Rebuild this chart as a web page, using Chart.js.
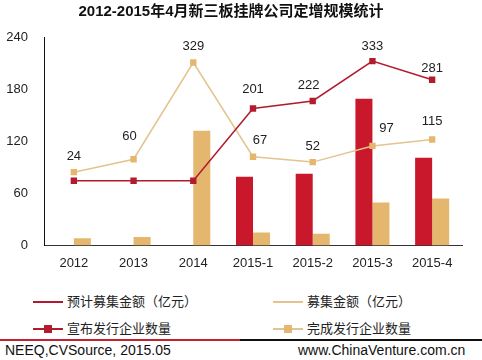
<!DOCTYPE html>
<html>
<head>
<meta charset="utf-8">
<script src="https://cdn.jsdelivr.net/npm/chart.js@4"></script>
<style>
  html,body{margin:0;padding:0;background:#fff;}
  body{width:482px;height:360px;position:relative;overflow:hidden;font-family:"Liberation Sans","Noto Sans CJK SC",Arial,sans-serif;color:#222;}
  #wrap{position:absolute;left:0;top:0;width:482px;height:282px;}
  .leg{position:absolute;font-size:13px;line-height:13px;font-family:"Liberation Sans","Noto Sans CJK SC",sans-serif;color:#222;}
  .leg .ln{position:absolute;left:0;top:6px;width:30px;height:2px;}
  .leg .sq{position:absolute;left:11px;top:3px;width:8px;height:8px;}
  .leg span{position:absolute;left:34px;top:0;white-space:nowrap;}
  .foot{position:absolute;font-size:14px;line-height:14px;top:343px;white-space:nowrap;color:#111;}
</style>
</head>
<body>
<div id="wrap"><canvas id="c" width="482" height="282"></canvas></div>

<div class="leg" style="left:33px;top:295px;width:200px;height:14px;"><div class="ln" style="background:#b01c2e"></div><span>预计募集金额（亿元）</span></div>
<div class="leg" style="left:273px;top:295px;width:200px;height:14px;"><div class="ln" style="background:#e3c48f"></div><span>募集金额（亿元）</span></div>
<div class="leg" style="left:33px;top:322px;width:200px;height:14px;"><div class="ln" style="background:#b01c2e"></div><div class="sq" style="background:#b31b2f"></div><span>宣布发行企业数量</span></div>
<div class="leg" style="left:273px;top:322px;width:200px;height:14px;"><div class="ln" style="background:#e3c48f"></div><div class="sq" style="background:#e5b76e"></div><span>完成发行企业数量</span></div>

<div style="position:absolute;left:0;top:339px;width:240px;height:2px;background:#c8202f;"></div>
<div style="position:absolute;left:240px;top:339px;width:242px;height:2px;background:#111;"></div>
<div class="foot" style="left:5px;">NEEQ,CVSource, 2015.05</div>
<div class="foot" style="left:298px;">www.ChinaVenture.com.cn</div>

<script>
const categories = ['2012','2013','2014','2015-1','2015-2','2015-3','2015-4'];
const plannedAmount = [0, 0, 0, 79, 82.5, 169, 101];        // 预计募集金额（亿元）
const raisedAmount  = [8.3, 9.8, 132, 15, 13.6, 49.5, 54];  // 募集金额（亿元）
const announcedCount = [0, 0, 0, 201, 222, 333, 281];       // 宣布发行企业数量
const completedCount = [24, 60, 329, 67, 52, 97, 115];      // 完成发行企业数量
const yTicks = [0, 60, 120, 180, 240];

// label placement tweaks (pixels), keyed by dataset index then point index
const labelShift = {
  2: {3:[0,-19], 4:[-4,-16], 5:[0,-15], 6:[0,-11]},
  3: {0:[0,-16], 1:[-4,-23], 2:[0,-16], 3:[7,-16], 4:[0,-16], 5:[14,-18], 6:[0,-18]}
};

const FONT = '"Liberation Sans","Noto Sans CJK SC",Arial,sans-serif';

const valueLabels = {
  id: 'valueLabels',
  afterDatasetsDraw(chart) {
    const ctx = chart.ctx;
    ctx.save();
    ctx.font = '13px ' + FONT;
    ctx.fillStyle = '#222';
    ctx.textAlign = 'center';
    ctx.textBaseline = 'middle';
    [2, 3].forEach(di => {
      const meta = chart.getDatasetMeta(di);
      const data = chart.data.datasets[di].data;
      meta.data.forEach((pt, i) => {
        const v = data[i];
        if (!v) return;
        const s = (labelShift[di] && labelShift[di][i]) || [0, -17];
        ctx.fillText(String(v), pt.x + s[0], pt.y + s[1]);
      });
    });
    ctx.restore();
  }
};

new Chart(document.getElementById('c'), {
  type: 'bar',
  data: {
    labels: categories,
    datasets: [
      { label: '预计募集金额（亿元）', data: plannedAmount, backgroundColor: '#c9182b', yAxisID: 'y', order: 2, categoryPercentage: 0.57, barPercentage: 1 },
      { label: '募集金额（亿元）', data: raisedAmount, backgroundColor: '#e5b76e', yAxisID: 'y', order: 2, categoryPercentage: 0.57, barPercentage: 1 },
      { type: 'line', label: '宣布发行企业数量', data: announcedCount, yAxisID: 'y2', order: 0,
        borderColor: '#b01c2e', borderWidth: 1.5, backgroundColor: '#b31b2f', pointStyle: 'rect', pointRadius: 4.5, pointBorderWidth: 0, tension: 0 },
      { type: 'line', label: '完成发行企业数量', data: completedCount, yAxisID: 'y2', order: 1,
        borderColor: '#e3c48f', borderWidth: 1.5, backgroundColor: '#e5b76e', pointStyle: 'rect', pointRadius: 4.5, pointBorderWidth: 0, tension: 0 }
    ]
  },
  options: {
    responsive: false,
    animation: false,
    devicePixelRatio: 1,
    layout: { padding: { left: 0, right: 20, top: 0, bottom: 0 } },
    plugins: {
      legend: { display: false },
      tooltip: { enabled: false },
      title: { display: true, text: '2012-2015年4月新三板挂牌公司定增规模统计', color: '#111',
        font: { family: FONT, size: 15, weight: 'bold' }, padding: { top: 3, bottom: 16 } }
    },
    scales: {
      x: {
        offset: true,
        grid: { display: false, drawTicks: false },
        border: { color: '#333', width: 1 },
        ticks: { color: '#222', font: { family: FONT, size: 13 }, padding: 10, maxRotation: 0 },
        afterFit(s) { s.height = 36.5; }
      },
      y: {
        min: 0, max: 240,
        afterBuildTicks(s) { s.ticks = yTicks.map(v => ({ value: v })); },
        grid: { display: false, drawTicks: false },
        border: { color: '#111', width: 1 },
        ticks: { color: '#222', font: { family: FONT, size: 13 }, padding: 16 },
        afterFit(s) { s.width = 44; }
      },
      y2: { display: false, min: -180, max: 400, position: 'right' }
    }
  },
  plugins: [valueLabels]
});
</script>
</body>
</html>
